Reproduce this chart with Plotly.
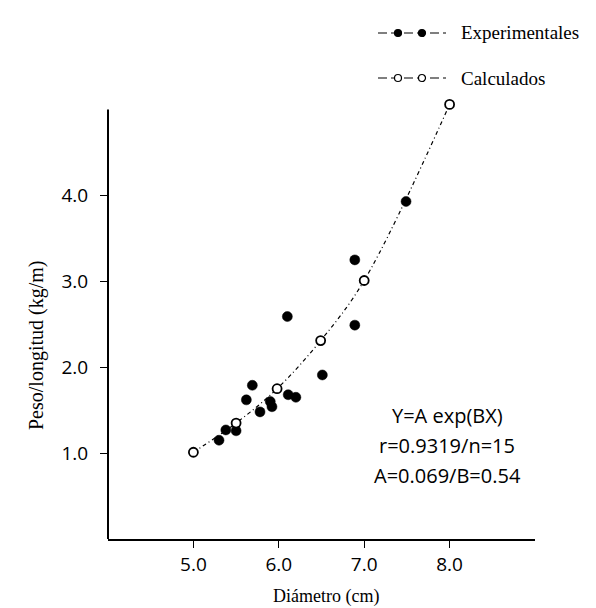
import plotly.graph_objects as go

# Experimental points (diameter as printed on axis, weight/length)
exp_x = [5.30, 5.38, 5.50, 5.62, 5.69, 5.78, 5.90, 5.92, 6.10, 6.11, 6.20, 6.51, 6.89, 6.89, 7.49]
exp_y = [1.15, 1.27, 1.26, 1.62, 1.79, 1.48, 1.60, 1.54, 2.59, 1.68, 1.65, 1.91, 2.49, 3.25, 3.93]

# Calculated points (Y = A exp(BX))
calc_x = [5.00, 5.50, 5.98, 6.49, 7.00, 8.00]
calc_y = [1.01, 1.35, 1.75, 2.31, 3.01, 5.06]

x_tickvals = [5, 6, 7, 8]
x_ticktext = ["5.0", "6.0", "7.0", "8.0"]
y_tickvals = [1, 2, 3, 4]
y_ticktext = ["1.0", "2.0", "3.0", "4.0"]

legend_labels = ["Experimentales", "Calculados"]
fit_lines = ["Y=A exp(BX)", "r=0.9319/n=15", "A=0.069/B=0.54"]

SANS = "Open Sans, DejaVu Sans, sans-serif"
SERIF = "Liberation Serif, DejaVu Serif, serif"

Y_AXIS_TOP = 5.0   # drawn length of the vertical axis line
Y_RANGE = [0, 5.1]

fig = go.Figure()

fig.add_trace(go.Scatter(
    x=calc_x, y=calc_y, mode="lines",
    line=dict(color="black", width=1.2, dash="4px,3px,1px,3px", shape="spline"),
    showlegend=False, hoverinfo="skip", cliponaxis=False))

fig.add_trace(go.Scatter(
    x=exp_x, y=exp_y, mode="markers",
    marker=dict(size=10, color="black", line=dict(color="black", width=0.5)),
    showlegend=False, cliponaxis=False))

fig.add_trace(go.Scatter(
    x=calc_x, y=calc_y, mode="markers",
    marker=dict(size=9, color="white", line=dict(color="black", width=1.8)),
    showlegend=False, cliponaxis=False))

L, R, T, B = 100, 69, 93, 77
W, H = 596, 608
pw, ph = W - L - R, H - T - B

def px2paper(px, py):
    return (px - L) / pw, (H - B - py) / ph

shapes = []
annotations = []

# vertical axis line (stops at 5.0)
shapes.append(dict(type="line", xref="paper", yref="y", x0=0, x1=0, y0=0, y1=Y_AXIS_TOP,
                   line=dict(color="black", width=2)))

# custom legend
rows = [(25, True), (70, False)]
for (py, filled), label in zip(rows, legend_labels):
    x0, yp = px2paper(370, py)
    x1, _ = px2paper(438, py)
    shapes.append(dict(type="line", xref="paper", yref="paper", x0=x0, x1=x1, y0=yp, y1=yp,
                       line=dict(color="black", width=1.2, dash="9px,4px")))
    for mx in (390, 414):
        xa, _ = px2paper(mx, py)
        shapes.append(dict(type="circle", xref="paper", yref="paper",
                           xsizemode="pixel", ysizemode="pixel",
                           xanchor=xa, yanchor=yp, x0=-3.5, x1=3.5, y0=-3.5, y1=3.5,
                           fillcolor="black" if filled else "white",
                           line=dict(color="black", width=1.2)))
    tx, _ = px2paper(451, py)
    annotations.append(dict(text=label, xref="paper", yref="paper", x=tx, y=yp,
                            xanchor="left", yanchor="middle", showarrow=False,
                            font=dict(family=SERIF, size=19, color="black")))

# fit text
for py, line in zip([407, 437, 467], fit_lines):
    xp, yp = px2paper(439, py)
    annotations.append(dict(text=line, xref="paper", yref="paper", x=xp, y=yp,
                            xanchor="center", yanchor="middle", showarrow=False,
                            font=dict(family=SANS, size=20, color="black")))

# axis titles
xp, yp = px2paper(28, 338)
annotations.append(dict(text="Peso/longitud (kg/m)", xref="paper", yref="paper", x=xp, y=yp,
                        xanchor="center", yanchor="middle", showarrow=False, textangle=-90,
                        font=dict(family=SERIF, size=20, color="black")))
xp, yp = px2paper(318, 588)
annotations.append(dict(text="Diámetro (cm)", xref="paper", yref="paper", x=xp, y=yp,
                        xanchor="center", yanchor="middle", showarrow=False,
                        font=dict(family=SERIF, size=18, color="black")))

tickfont = dict(family=SANS, size=19, color="black")

fig.update_layout(
    width=W, height=H,
    margin=dict(l=L, r=R, t=T, b=B),
    paper_bgcolor="white", plot_bgcolor="white",
    showlegend=False,
    shapes=shapes, annotations=annotations,
    xaxis=dict(range=[4.0, 9.0], tickvals=x_tickvals, ticktext=x_ticktext,
               showgrid=False, zeroline=False, showline=True, linecolor="black", linewidth=2,
               ticks="outside", ticklen=7, tickwidth=1.2, tickcolor="black",
               ticklabelstandoff=0, tickfont=tickfont),
    yaxis=dict(range=Y_RANGE, tickvals=y_tickvals, ticktext=y_ticktext,
               showgrid=False, zeroline=False, showline=False,
               ticks="outside", ticklen=7, tickwidth=1.2, tickcolor="black",
               ticklabelstandoff=8, tickfont=tickfont),
)

fig.write_html("out.html")
